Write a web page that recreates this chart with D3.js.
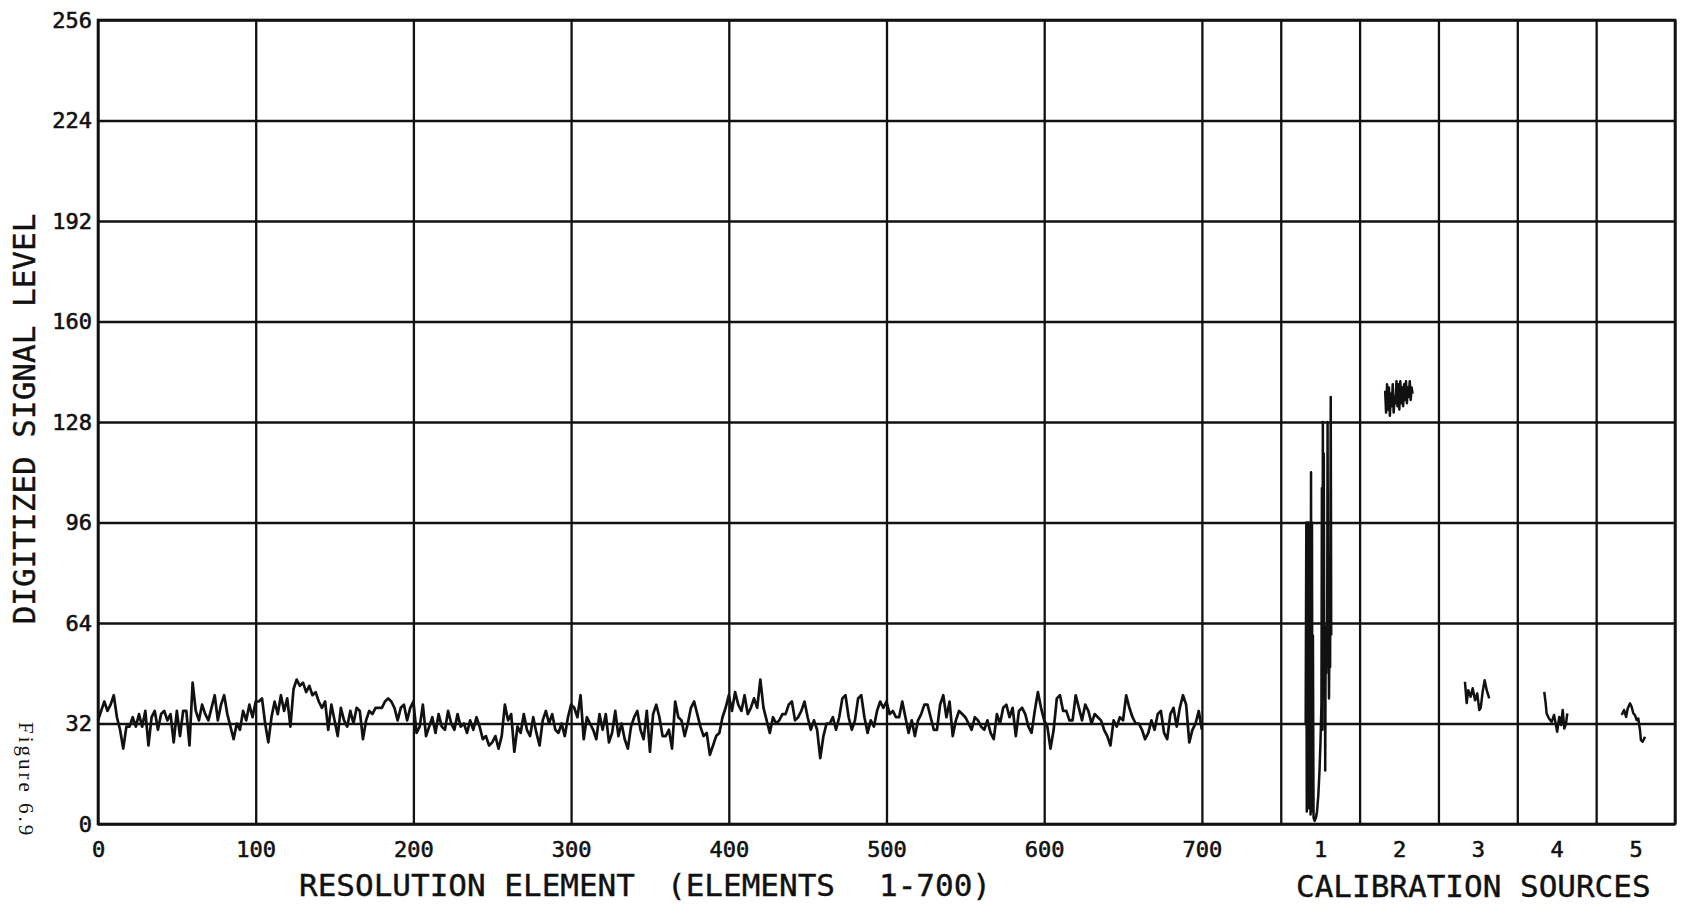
<!DOCTYPE html>
<html><head><meta charset="utf-8">
<script src="https://cdn.jsdelivr.net/npm/d3@7"></script>
<style>body{margin:0;background:#fff}svg{display:block;background:#fff}</style>
</head><body><svg id="c" width="1690" height="913"></svg>
<script>
// ---- data ----
const yTicks = [0, 32, 64, 96, 128, 160, 192, 224, 256];
const xTicks = [0, 100, 200, 300, 400, 500, 600, 700];
const calGrid = [750, 800, 850, 900, 950, 1000];
const calLabels = ["1", "2", "3", "4", "5"];
const calCenters = [775, 825, 875, 925, 975];
const signalStep = 2; // one value every 2 resolution elements
const signal = [
33,36,39,36,38,41,34,30,24,31,31,34,31,35,31,36,25,34,36,30,35,36,33,35,26,
36,28,36,36,25,45,36,33,38,35,33,37,41,33,38,41,35,31,27,32,30,36,33,38,34,
39,39,40,32,26,34,39,35,41,36,40,31,43,46,44,45,42,44,41,42,39,37,39,30,38,
33,28,37,33,31,36,32,37,36,27,33,36,35,37,37,37,39,40,39,37,33,37,38,33,37,
39,29,31,38,28,31,34,29,35,31,30,36,32,30,35,31,32,29,33,30,34,31,27,28,25,
26,28,24,28,38,33,35,23,31,29,35,30,28,34,29,25,33,36,32,35,30,29,32,28,34,
38,37,34,41,27,34,32,30,27,35,30,35,26,29,36,28,32,27,24,31,34,36,30,27,36,
23,35,38,34,28,28,30,24,39,34,33,28,32,37,39,35,31,28,29,22,25,28,29,34,37,
41,36,42,38,36,41,35,37,40,37,46,37,33,29,34,32,33,35,35,38,39,33,34,36,39,
34,30,33,30,21,28,32,32,34,30,34,40,41,34,30,33,40,41,34,29,33,31,36,39,37,
39,35,36,34,34,39,34,29,33,28,33,35,38,38,34,30,30,38,41,34,39,28,33,36,35,
34,32,30,34,33,31,30,33,29,27,35,32,37,38,34,37,28,36,37,35,31,29,36,42,37,
33,31,24,30,40,41,36,36,33,33,41,37,33,38,36,32,35,34,33,30,28,25,33,31,34,
33,41,37,34,32,32,30,27,29,33,30,35,36,29,27,35,37,31,37,41,38,26,30,32,36,
30];
// calibration sources: [position, level]
const cal1 = [[765.8,32],[766.2,96],[766.5,4],[766.8,95],[767.1,8],[767.4,96],[767.7,5],[768.0,94],[768.3,10],[768.6,96],[768.9,3],[769.2,112],[769.5,6],[769.8,96],[770.1,4],[770.4,60],[770.8,2],[771.5,1],[772.3,2],[773.0,4],[773.8,9],[774.5,16],[775.2,26],[775.8,38],[776.1,107],[776.4,30],[776.7,128],[777.0,40],[777.3,118],[777.6,48],[777.9,63],[778.2,17],[778.5,62],[778.8,48],[779.1,63],[779.4,50],[779.7,128],[780.0,52],[780.3,61],[780.6,40],[780.9,62],[781.3,50],[781.7,136],[782.0,60]];
const cal2 = [[816.2,138],[816.8,131],[817.4,140],[818.0,132],[818.6,139],[819.2,130],[819.8,137],[820.4,133],[821.0,140],[821.6,131],[822.2,136],[822.8,134],[823.4,141],[824.0,133],[824.6,140],[825.2,132],[825.8,141],[826.4,134],[827.0,139],[827.6,133],[828.2,140],[828.8,135],[829.4,141],[830.0,134],[830.6,139],[831.2,136],[831.8,141],[832.4,135],[833.0,139],[833.6,137]];
const cal3 = [[866.8,45.3],[867.9,38.5],[868.9,42.6],[870.4,40.5],[871.7,43.2],[873.2,39.4],[874.6,41.6],[875.9,36.3],[876.8,37],[878.0,42],[879.3,45.8],[880.6,42.6],[882.2,40]];
const cal4 = [[917.1,42.1],[918.0,38.4],[918.6,35.2],[920.1,33.6],[921.8,32.5],[923.3,34.7],[924.5,31.5],[925.3,29.4],[926.6,34.1],[927.7,31.5],[928.8,36.3],[929.8,30.4],[930.9,32],[931.7,35.2]];
const cal5 = [[966.2,34.7],[967.7,36.3],[969.0,34.1],[970.0,36.8],[971.5,38.4],[972.5,37.3],[973.6,35.2],[974.6,34.7],[975.7,33.1],[976.7,33.6],[977.8,29.9],[978.4,26.7],[979.5,26.2],[981.0,27.8]];
const calibration = [cal1, cal2, cal3, cal4, cal5];

// ---- chart ----
const svg = d3.select("#c");
const x = d3.scaleLinear().domain([0, 1000]).range([98, 1675]);
const y = d3.scaleLinear().domain([0, 256]).range([824, 20]);
const INK = "#111";
const MONO = "'DejaVu Sans Mono', monospace";
const W = x(1000) - x(0), H = y(0) - y(256);

// horizontal grid + y labels
const gy = svg.append("g").attr("transform", `translate(${x(0)},0)`)
  .call(d3.axisLeft(y).tickValues(yTicks).tickSize(-W).tickPadding(6).tickFormat(d3.format("d")));
// vertical grid + x labels
const gx = svg.append("g").attr("transform", `translate(0,${y(0)})`)
  .call(d3.axisBottom(x).tickValues(xTicks.concat(calGrid)).tickSize(-H).tickPadding(17)
    .tickFormat(d => d <= 700 ? d : ""));
// calibration source labels
const gc = svg.append("g").attr("transform", `translate(0,${y(0)})`)
  .call(d3.axisBottom(x).tickValues(calCenters).tickSize(0).tickPadding(17)
    .tickFormat((d, i) => calLabels[i]));

[gy, gx, gc].forEach(g => {
  g.select(".domain").remove();
  g.selectAll(".tick line").attr("stroke", INK).attr("stroke-width", 2.3);
  g.selectAll(".tick text").attr("fill", INK).attr("stroke", INK).attr("stroke-width", 0.6)
    .style("font-family", MONO).style("font-size", "22px");
});
gc.selectAll(".tick line").remove();

// frame
svg.append("rect").attr("x", x(0)).attr("y", y(256)).attr("width", W).attr("height", H)
  .attr("fill", "none").attr("stroke", INK).attr("stroke-width", 2.6);

const line = d3.line().x(d => x(d[0])).y(d => y(d[1]));
svg.append("path").datum(signal.map((v, i) => [i * signalStep, v]))
  .attr("d", line).attr("fill", "none").attr("stroke", INK).attr("stroke-width", 2.7)
  .attr("stroke-linejoin", "round");
svg.selectAll("path.cal").data(calibration).join("path").attr("class", "cal")
  .attr("d", line).attr("fill", "none").attr("stroke", INK).attr("stroke-width", 2.5)
  .attr("stroke-linejoin", "round");

// titles
const t = (txt, xx, yy) => svg.append("text").attr("x", xx).attr("y", yy).text(txt)
  .attr("fill", INK).attr("stroke", INK).attr("stroke-width", 0.4)
  .style("font-family", MONO).style("font-size", "31px");
t("RESOLUTION ELEMENT", 299, 896);
t("(ELEMENTS", 667, 896);
t("1-700)", 879, 896);
t("CALIBRATION SOURCES", 1296, 897);
svg.append("text").attr("transform", "translate(35,419) rotate(-90)")
  .attr("text-anchor", "middle").text("DIGITIZED SIGNAL LEVEL")
  .attr("fill", INK).attr("stroke", INK).attr("stroke-width", 0.4)
  .style("font-family", MONO).style("font-size", "31px");
svg.append("text").attr("transform", "translate(19,722) rotate(90)")
  .text("Figure 6.9").attr("fill", INK).attr("letter-spacing", 3)
  .style("font-family", "'Liberation Serif', serif").style("font-size", "21px");
</script></body></html>
